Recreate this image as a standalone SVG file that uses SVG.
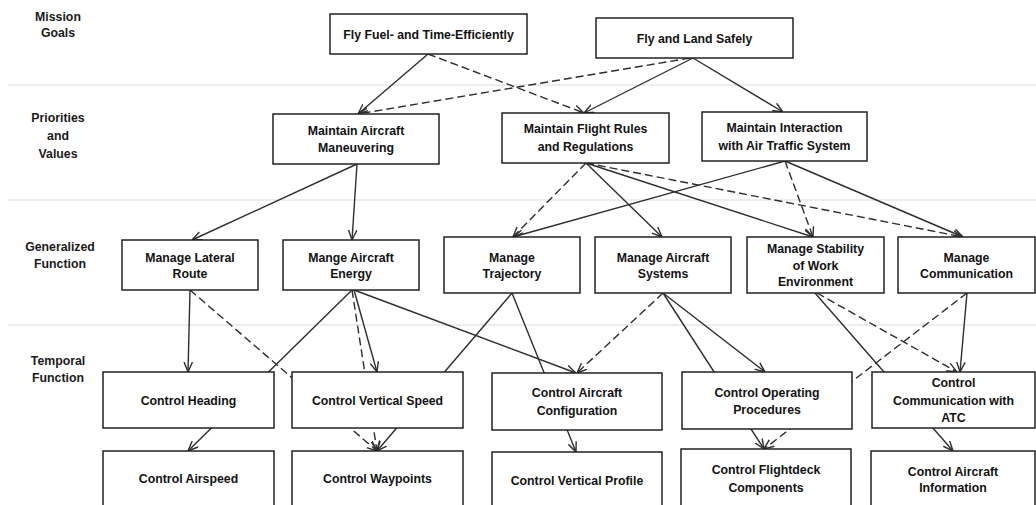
<svg xmlns="http://www.w3.org/2000/svg" width="1036" height="505" viewBox="0 0 1036 505">
  <style>
    .band { stroke: #e9e9e1; stroke-width: 1.5; }
    .lvl { font-family: "Liberation Sans", Arial, sans-serif; font-weight: bold; font-size: 12.3px; fill: #1a1a1a; text-anchor: middle; }
    .box { fill: #ffffff; stroke: #222222; stroke-width: 1.5; }
    .lbl { font-family: "Liberation Sans", Arial, sans-serif; font-weight: bold; font-size: 12.3px; fill: #121212; text-anchor: middle; }
    .c { stroke: #2e2e2e; stroke-width: 1.4; fill: none; marker-end: url(#arr); }
    .d { stroke-dasharray: 8 4; }
  </style>
  <defs>
    <marker id="arr" viewBox="0 0 10 10" refX="10" refY="5" markerWidth="10" markerHeight="10" markerUnits="userSpaceOnUse" orient="auto">
      <path d="M0,0.8 L10,5 L0,9.2" fill="none" stroke="#2e2e2e" stroke-width="1.4"/>
    </marker>
  </defs>
  <rect width="1036" height="505" fill="#ffffff"/>

  <!-- abstraction level bands -->
  <g id="bands">
    <line class="band" x1="8" y1="85" x2="1036" y2="85"/>
    <line class="band" x1="8" y1="200" x2="1036" y2="200"/>
    <line class="band" x1="8" y1="325" x2="1036" y2="325"/>
  </g>

  <!-- level names -->
  <g id="levels">
    <text class="lvl" x="58" y="21">Mission</text>
    <text class="lvl" x="58" y="37">Goals</text>
    <text class="lvl" x="58" y="122">Priorities</text>
    <text class="lvl" x="58" y="140">and</text>
    <text class="lvl" x="58" y="158">Values</text>
    <text class="lvl" x="60" y="251">Generalized</text>
    <text class="lvl" x="60" y="268">Function</text>
    <text class="lvl" x="58" y="365">Temporal</text>
    <text class="lvl" x="58" y="382">Function</text>
  </g>

  <!-- means-ends links (solid and dashed) -->
  <g id="connectors">
    <line class="c" x1="428" y1="54" x2="358" y2="114"/>
    <line class="c d" x1="428" y1="54" x2="584" y2="113"/>
    <line class="c d" x1="690" y1="58" x2="358" y2="114"/>
    <line class="c" x1="693" y1="58" x2="584" y2="113"/>
    <line class="c" x1="693" y1="58" x2="783" y2="112"/>

    <line class="c" x1="357" y1="164" x2="192" y2="240"/>
    <line class="c" x1="357" y1="164" x2="352" y2="240"/>
    <line class="c d" x1="586" y1="163" x2="513" y2="237"/>
    <line class="c" x1="586" y1="163" x2="662" y2="237"/>
    <line class="c" x1="586" y1="163" x2="813" y2="237"/>
    <line class="c d" x1="586" y1="163" x2="963" y2="237"/>
    <line class="c" x1="785" y1="161" x2="513" y2="237"/>
    <line class="c d" x1="785" y1="161" x2="813" y2="237"/>
    <line class="c" x1="785" y1="161" x2="963" y2="237"/>

    <line class="c" x1="190" y1="290" x2="188" y2="372"/>
    <line class="c d" x1="190" y1="290" x2="377" y2="451"/>
    <line class="c" x1="352" y1="290" x2="188" y2="451"/>
    <line class="c d" x1="352" y1="290" x2="377" y2="451"/>
    <line class="c" x1="354" y1="290" x2="377" y2="372"/>
    <line class="c" x1="354" y1="290" x2="576" y2="373"/>
    <line class="c" x1="512" y1="293" x2="377" y2="451"/>
    <line class="c" x1="512" y1="293" x2="576" y2="452"/>
    <line class="c d" x1="663" y1="293" x2="577" y2="373"/>
    <line class="c" x1="663" y1="293" x2="764" y2="449"/>
    <line class="c" x1="663" y1="293" x2="765" y2="372"/>
    <line class="c" x1="815" y1="293" x2="953" y2="451"/>
    <line class="c d" x1="817" y1="293" x2="957" y2="372"/>
    <line class="c" x1="967" y1="293" x2="960" y2="372"/>
    <line class="c d" x1="967" y1="293" x2="764" y2="449"/>
  </g>

  <!-- mission goals -->
  <g id="fly-efficiently">
    <rect class="box" x="330" y="14" width="197" height="40"/>
    <text class="lbl" x="428.5" y="39">Fly Fuel- and Time-Efficiently</text>
  </g>
  <g id="fly-safely">
    <rect class="box" x="596" y="18" width="197" height="40"/>
    <text class="lbl" x="694.5" y="43">Fly and Land Safely</text>
  </g>

  <!-- priorities and values -->
  <g id="maintain-maneuvering">
    <rect class="box" x="273" y="114" width="166" height="50"/>
    <text class="lbl" x="356" y="135">Maintain Aircraft</text>
    <text class="lbl" x="356" y="152">Maneuvering</text>
  </g>
  <g id="maintain-rules">
    <rect class="box" x="502" y="113" width="167" height="50"/>
    <text class="lbl" x="585.5" y="133">Maintain Flight Rules</text>
    <text class="lbl" x="585.5" y="151">and Regulations</text>
  </g>
  <g id="maintain-interaction">
    <rect class="box" x="702" y="112" width="165" height="49"/>
    <text class="lbl" x="784.5" y="132">Maintain Interaction</text>
    <text class="lbl" x="784.5" y="150">with Air Traffic System</text>
  </g>

  <!-- generalized functions -->
  <g id="manage-lateral">
    <rect class="box" x="122" y="240" width="136" height="50"/>
    <text class="lbl" x="190" y="262">Manage Lateral</text>
    <text class="lbl" x="190" y="278">Route</text>
  </g>
  <g id="manage-energy">
    <rect class="box" x="283" y="240" width="136" height="50"/>
    <text class="lbl" x="351" y="262">Mange Aircraft</text>
    <text class="lbl" x="351" y="278">Energy</text>
  </g>
  <g id="manage-trajectory">
    <rect class="box" x="444" y="237" width="136" height="56"/>
    <text class="lbl" x="512" y="262">Manage</text>
    <text class="lbl" x="512" y="278">Trajectory</text>
  </g>
  <g id="manage-systems">
    <rect class="box" x="595" y="237" width="136" height="56"/>
    <text class="lbl" x="663" y="262">Manage Aircraft</text>
    <text class="lbl" x="663" y="278">Systems</text>
  </g>
  <g id="manage-stability">
    <rect class="box" x="747" y="237" width="137" height="56"/>
    <text class="lbl" x="815.5" y="253">Manage Stability</text>
    <text class="lbl" x="815.5" y="270">of Work</text>
    <text class="lbl" x="815.5" y="286">Environment</text>
  </g>
  <g id="manage-communication">
    <rect class="box" x="898" y="237" width="137" height="56"/>
    <text class="lbl" x="966.5" y="262">Manage</text>
    <text class="lbl" x="966.5" y="278">Communication</text>
  </g>

  <!-- temporal functions -->
  <g id="control-heading">
    <rect class="box" x="103" y="372" width="171" height="56"/>
    <text class="lbl" x="188.5" y="405">Control Heading</text>
  </g>
  <g id="control-vertical-speed">
    <rect class="box" x="292" y="372" width="171" height="56"/>
    <text class="lbl" x="377.5" y="405">Control Vertical Speed</text>
  </g>
  <g id="control-configuration">
    <rect class="box" x="492" y="373" width="170" height="57"/>
    <text class="lbl" x="577" y="397">Control Aircraft</text>
    <text class="lbl" x="577" y="415">Configuration</text>
  </g>
  <g id="control-procedures">
    <rect class="box" x="682" y="372" width="170" height="57"/>
    <text class="lbl" x="767" y="397">Control Operating</text>
    <text class="lbl" x="767" y="414">Procedures</text>
  </g>
  <g id="control-atc">
    <rect class="box" x="872" y="372" width="163" height="56"/>
    <text class="lbl" x="953.5" y="387">Control</text>
    <text class="lbl" x="953.5" y="405">Communication with</text>
    <text class="lbl" x="953.5" y="422">ATC</text>
  </g>

  <g id="control-airspeed">
    <rect class="box" x="103" y="451" width="171" height="70"/>
    <text class="lbl" x="188.5" y="483">Control Airspeed</text>
  </g>
  <g id="control-waypoints">
    <rect class="box" x="292" y="451" width="171" height="70"/>
    <text class="lbl" x="377.5" y="483">Control Waypoints</text>
  </g>
  <g id="control-vertical-profile">
    <rect class="box" x="492" y="452" width="170" height="70"/>
    <text class="lbl" x="577" y="485">Control Vertical Profile</text>
  </g>
  <g id="control-flightdeck">
    <rect class="box" x="681" y="449" width="170" height="70"/>
    <text class="lbl" x="766" y="474">Control Flightdeck</text>
    <text class="lbl" x="766" y="492">Components</text>
  </g>
  <g id="control-information">
    <rect class="box" x="871" y="451" width="164" height="70"/>
    <text class="lbl" x="953" y="476">Control Aircraft</text>
    <text class="lbl" x="953" y="492">Information</text>
  </g>
</svg>
